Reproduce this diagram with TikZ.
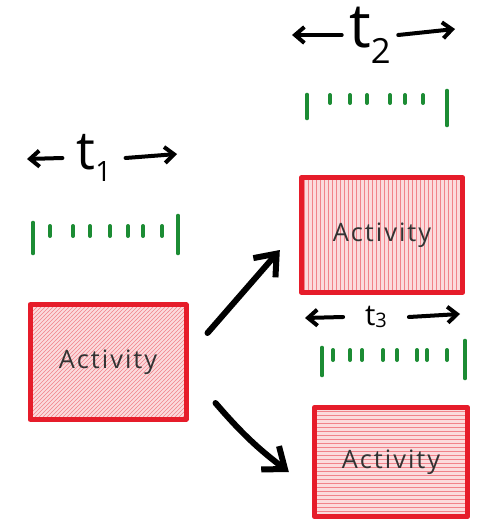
\documentclass[tikz,border=0pt]{standalone}
\usepackage{fontspec}
\setmainfont{Open Sans}
\newfontfamily\handfont[LetterSpace=8]{Open Sans}
\usetikzlibrary{arrows.meta,patterns,calc}
\definecolor{boxred}{RGB}{230,28,42}
\definecolor{tickgreen}{RGB}{28,140,52}
\newcommand{\tdur}[4]{{\fontsize{#1}{#1}\selectfont t}\raisebox{#3}{\fontsize{#2}{#2}\selectfont #4}}

\begin{document}
\begin{tikzpicture}[x=0.75pt,y=-0.75pt,
  actbox/.style={draw=boxred,line width=3.75pt,line join=round,inner sep=0pt,
    preaction={fill=boxred!16},pattern color=boxred!55,
    font=\handfont\fontsize{19}{22}\selectfont,text=black!80},
  flow/.style={-{Straight Barb[length=14pt,width=22pt,line width=4.5pt]},line width=4.5pt,line cap=round},
  span/.style={-{Straight Barb[length=7pt,width=12pt]},line width=3pt,line cap=round},
  tlab/.style={inner sep=0pt},
  bigtick/.style={draw=tickgreen,line width=3.5pt,line cap=round},
  smalltick/.style={draw=tickgreen,line width=3pt,line cap=round}]
  \useasboundingbox (0,0) rectangle (477,528);

  % the three activities
  \node[actbox,pattern=north east lines,minimum width=117pt,minimum height=86pt] (act1) at (108,362) {Activity};
  \node[actbox,pattern=vertical lines,minimum width=121pt,minimum height=86pt] (act2) at (382,235) {Activity};
  \node[actbox,pattern=horizontal lines,minimum width=115pt,minimum height=82pt] (act3) at (391,462) {Activity};

  \draw[flow] ($(act1.east)+(19,-29)$) -- ($(act2.west)+(-19,15)$);
  \draw[flow] ($(act1.east)+(27,41)$) to[bend right=6] ($(act3.west)+(-23,10)$);

  % durations
  \node[tlab,minimum width=47pt] (t1) at (94,158) {\tdur{40}{21}{-9pt}{1}};
  \coordinate (t1l) at (27,159);
  \coordinate (t1r) at (177,154);
  \draw[span] (t1.west) -- (t1l);
  \draw[span] (t1.east) -- (t1r);

  \node[tlab,minimum width=42pt] (t2) at (370,35) {\tdur{46}{26}{-12pt}{2}};
  \coordinate (t2l) at (292,35);
  \coordinate (t2r) at (455,29);
  \draw[span] (t2.west) -- (t2l);
  \draw[span] (t2.east) -- (t2r);

  \node[tlab,minimum width=49pt] (t3) at (376,317) {\tdur{22}{15}{-2pt}{3}};
  \coordinate (t3l) at (305,318);
  \coordinate (t3r) at (460,314);
  \draw[span] (t3.west) -- (t3l);
  \draw[span] (t3.east) -- (t3r);

  % tick bars
  \draw[bigtick] (33,223) -- (33,253);
  \draw[bigtick] (178,216) -- (178,253);
  \foreach \x in {50,73,90,110,128,143,162}
    \draw[smalltick] (\x,226) -- (\x,236);

  \draw[bigtick] (307,95) -- (307,118);
  \draw[bigtick] (447,91) -- (447,125);
  \foreach \x in {330,350,367,390,405,423}
    \draw[smalltick] (\x,95) -- (\x,103);

  \draw[bigtick] (322,348) -- (322,375);
  \draw[bigtick] (465,341) -- (465,378);
  \foreach \x in {333,350,362,383,397,417,427,447}
    \draw[smalltick] (\x,350) -- (\x,360);
\end{tikzpicture}
\end{document}
